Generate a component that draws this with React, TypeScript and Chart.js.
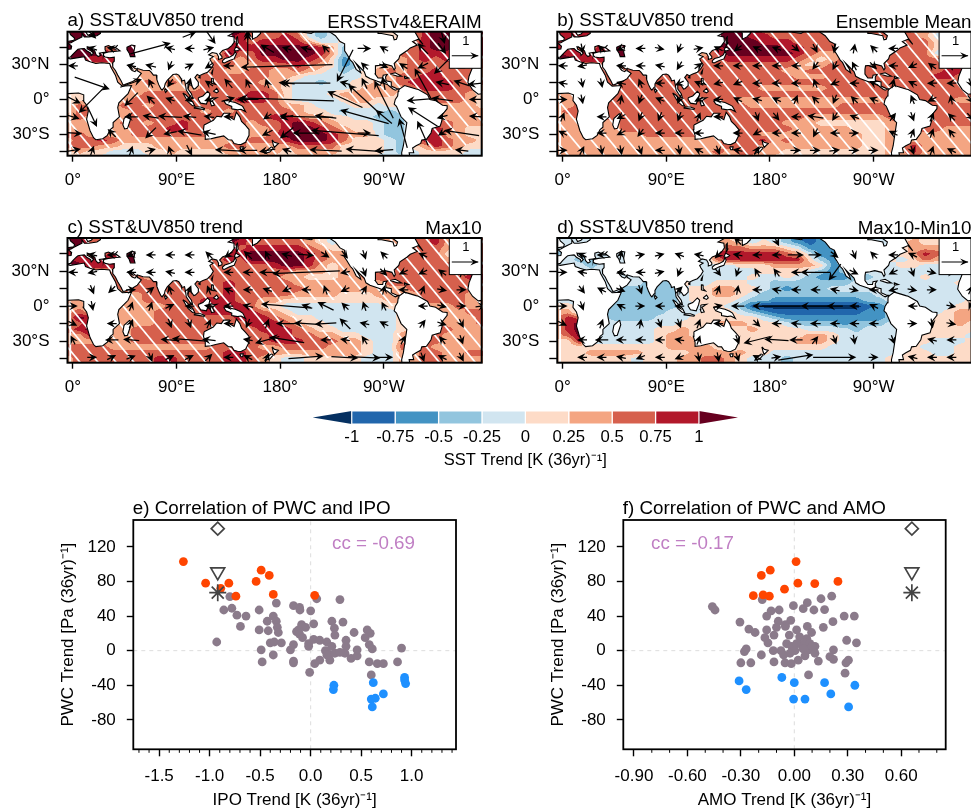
import { useEffect, useRef } from 'react';
import { Chart, registerables } from 'chart.js';
Chart.register(...registerables);

const FONT = '"Liberation Sans", Arial, sans-serif';
const levelColors = ['#053061', '#2166ac', '#4393c3', '#92c5de', '#d1e5f0', '#fddbc7', '#f4a582', '#d6604d', '#b2182b', '#67001f'];
const colorbarLevels = [-1, -0.75, -0.5, -0.25, 0, 0.25, 0.5, 0.75, 1];
const colorbarLabels = ['-1', '-0.75', '-0.5', '-0.25', '0', '0.25', '0.5', '0.75', '1'];

// SST trend band index per cell: lat 60..-50 by 5, lon -5..355 by 10
const sstLats = [60, 55, 50, 45, 40, 35, 30, 25, 20, 15, 10, 5, 0, -5, -10, -15, -20, -25, -30, -35, -40, -45, -50];
const sstLons = [-5, 5, 15, 25, 35, 45, 55, 65, 75, 85, 95, 105, 115, 125, 135, 145, 155, 165, 175, 185, 195, 205, 215, 225, 235, 245, 255, 265, 275, 285, 295, 305, 315, 325, 335, 345, 355];
const sstA = [
  '9999 7777777777 99 7777 6 4345 55555 68 99999',
  '9999 7777777777 98 7778 7 4345 55555 68 99998',
  '9977 7777777777 98 7888 8 6445 55555 78 99988',
  '99977 99 5555555 8 8 8 9 9 9 9 9 8 6 3 5 5566 7 8 9 9 8 8 8',
  '99997 99 5555555 9 7 7 9 9 9 9 9 8 6 3 4 5 6 7 7 7 8 8 8 8 8 8',
  '99888 88 5555557 7 6 7 8 8 9 9 8 7 5 2 3 5 6 6 6 7 8 7 8 8 7 7',
  '7777777 66666 6 7 7 6 6 7 7 7 8 7 6 5 2 3 4 5 6 6 7 7 7 7 8 7 7',
  '6666666 66666 6 7 6 6 7 7 6 6 7 6 5 4 3 4 5 6 7 6 7 7 8 7 7 7 6',
  '6666666 66666 7 7 7 7 7 7 6 6 5 4 4 4 4 4 5 6 6 7 7 8 8 7 7 7 6',
  '7777766 76766 7 7 7 7 7 6 6 5 4 4 3 4 4 5 5 6 6 7 8 8 8 8 7 7 7',
  '6666666 66666 7 7 7 7 7 7 6 5 4 4 4 4 4 5 6 6 6 6 7 8 8 8 7 7 6',
  '5566666 77777 7 7 7 7 8 8 7 5 4 4 4 5 6 6 6 6 6 5 6 7 7 7 7 6 5',
  '5566667 77777 7 7 7 8 8 8 7 5 4 4 4 4 5 6 6 5 5 5 6 7 7 7 7 6 5',
  '5766677 67777 7 7 7 7 7 7 7 6 6 5 4 4 4 5 5 4 5 5 6 6 6 6 6 6 5',
  '5776667 77777 6 7 6 7 7 7 7 7 6 5 5 4 3 4 4 4 3 4 5 6 6 6 6 6 6',
  '6766667 77777 7 7 7 7 7 7 8 8 7 6 6 5 5 4 4 3 3 3 5 6 6 6 6 6 6',
  '6666677 67787 7 7 7 7 6 7 7 8 9 8 7 6 5 5 5 4 3 3 5 6 7 7 6 6 6',
  '6666667 77887 7 7 7 7 6 6 7 8 9 9 8 7 6 5 5 4 3 3 5 7 8 7 6 5 5',
  '7766667 77777 7 7 7 6 6 6 7 9 9 9 9 8 7 6 6 4 3 3 6 8 8 6 6 5 5',
  '6778766 66666 6 6 6 6 7 7 7 8 9 9 9 8 7 5 5 5 4 3 7 8 8 7 6 6 5',
  '7776655 56666 6 6 7 7 6 6 6 6 7 7 7 7 5 5 5 5 4 3 5 6 8 7 6 5 5',
  '5655444 55655 5 5 6 6 6 6 6 5 6 6 6 6 5 5 5 5 4 3 4 5 5 5 5 4 4',
  '5544444 45554 4 5 5 5 5 5 5 5 5 5 5 5 5 5 5 4 4 4 4 5 5 5 4 4 4',
];
const sstB = [
  '88887777777777 99987777766 77777 7665567',
  '88887777777777 99988777777 77777 7764467',
  '88887777777777 99998887777 77777 7775567',
  '88778 99 6666666 89999988777 77777 7775567',
  '98888 99 6666666 89999998766 77777 7774367',
  '99888 88 6666667 78888887656 77777 7777777',
  '77777777777777 77777776567 77777 7777777',
  '77777777777777 77777766777 77777 7777887',
  '77777777777777 77777776667 77777 7778877',
  '77777777777777 77777777777 77777 7777777',
  '77777777777777 77776666667 77777 7777777',
  '66777777777777 77777777777 77777 7777777',
  '66777777777777 77666666666 66667 7777766',
  '66777777777777 77766666666 77777 7777777',
  '67777777777777 77777777777 77777 7777777',
  '66777777777777 77777777666 66667 7777777',
  '66666677777777 77777766655 55556 7777777',
  '66666677777777 77777776666 65556 6777666',
  '66666666777777 67776666666 66556 6666666',
  '66666666666666 68778676666 66556 6666666',
  '66666666666666 67776666666 66556 6866666',
  '66666666666666 76776655555 55556 6866666',
  '66666666666655 66665555555 55556 6666666',
];
const sstC = [
  '99777777777777 99877776545 66666 7786577',
  '99777777777777 98777776545 66666 7786467',
  '99777777777777 97888887655 66666 7776447',
  '88778 99 6666666 88999998766 66666 7775567',
  '98888 99 6666667 87999998766 67777 7776577',
  '99888 88 6666667 77778998656 66777 7777888',
  '77777776666667 77777766656 67777 7777777',
  '77777776777777 77777665556 67777 7777788',
  '77777777777777 87777766666 66677 7777777',
  '66666777777777 87777776666 66666 7777777',
  '66666667777777 87777766665 55666 6777766',
  '66666667777788 87766555555 55566 6777766',
  '66666666677788 88755444444 44455 6666766',
  '67666666777788 88876544444 44445 6676677',
  '69866666777777 78887655444 44445 6666667',
  '67966666777777 77888765544 44445 6666667',
  '78966677777777 77788876554 44445 6677666',
  '66866677777777 66778877665 54446 6776666',
  '66666677777777 66778887776 65446 7776666',
  '77776666666667 77766777766 65447 7766666',
  '77777777777777 88776666666 65446 6776677',
  '67777777887777 88765445555 54446 6776666',
  '67777777887777 88765445555 54446 6776666',
];
const sstD = [
  '44554444444444 55434431123 44444 5565554',
  '44444444444444 66545432123 44444 5655544',
  '43444444444444 77766654222 44444 5666654',
  '34444444444444 88888876422 44444 5687665',
  '34334444444444 78888888532 44445 4576654',
  '44434444444444 44555666652 34444 5544444',
  '44444444444444 44445555432 33444 4444444',
  '44444444444444 44454454322 23344 4454444',
  '44444444333544 55544333333 34444 4444455',
  '44444433333455 66554323334 44444 4444444',
  '44444433333455 66543333333 33344 4444444',
  '44444333333455 55433222222 22334 4444445',
  '55444333333445 54310000000 00123 4444455',
  '66444333334445 55432111111 11223 4444566',
  '68744333344455 55554322222 22223 4445566',
  '68944444444555 66655543333 23334 4455565',
  '68944444455655 55565555444 43444 4455555',
  '67954444456655 54555555665 44444 4555554',
  '55844444456665 54555556665 44444 4554445',
  '55555555556666 54555555554 44444 5544455',
  '55566666555566 66655444444 44444 5554455',
  '55555554555667 76544434444 44445 5555555',
  '55555554555667 76544434444 44445 5555555',
];

// Wind trend: [rowIndex, colIndex, u, v]
const windLats = [56, 44, 29, 14, 0, -15, -29, -44];
const windLons = [0, 16.875, 33.75, 50.625, 67.5, 84.375, 101.25, 118.125, 135, 151.875, 168.75, 185.625, 202.5, 219.375, 236.25, 253.125, 270, 286.875, 303.75, 320.625, 337.5, 354.375];
const windA: number[][] = [
  [0, 7, .5, -.7], [0, 9, 0, .4], [0, 19, .2, -.7], [0, 6, .5, .2], [0, 1, .3, -.3],
  [1, 1, -.3, .1], [1, 2, -.25, .05], [1, 4, 1.5, .4], [1, 5, -.2, .05], [1, 6, -.3, 0], [1, 7, .4, .1], [1, 9, 0, 1.2], [1, 10, -.5, .3], [1, 11, -.3, .1], [1, 12, -.4, .1], [1, 13, -.2, .2], [1, 15, .5, 0], [1, 16, -.25, .15], [1, 18, -.4, .4], [1, 19, .3, -.4],
  [2, 0, -.3, 0], [2, 3, -.3, .05], [2, 4, -.4, .1], [2, 5, -.1, -.25], [2, 6, .2, .1], [2, 7, -.3, -.2], [2, 8, -.4, 0], [2, 11, -3.4, -.1], [2, 14, -.6, -1.2], [2, 15, -.2, .2], [2, 16, .25, -.1], [2, 17, -.3, .2], [2, 18, -.4, -.2], [2, 19, -.6, -.6], [2, 20, -.4, -.2],
  [3, 1, 1.3, -.45], [3, 3, .8, .3], [3, 4, -.15, .3], [3, 5, -.2, -.3], [3, 6, .1, .4], [3, 7, -.3, .2], [3, 8, -.3, .35], [3, 9, -.15, .3], [3, 10, -.1, .3], [3, 11, -.6, .05], [3, 12, -1.8, 0], [3, 14, -.4, .1], [3, 15, -.2, .4], [3, 16, -.1, .5], [3, 18, -.6, 1.1], [3, 19, -.5, .1], [3, 20, -.6, .2], [3, 21, -1, -.1],
  [4, 0, .6, -.3], [4, 1, -1, -1], [4, 3, -.5, -.5], [4, 4, -.3, .3], [4, 5, -.3, .1], [4, 6, -.3, -.1], [4, 7, -.3, -.1], [4, 8, .5, .15], [4, 9, -.8, 0], [4, 11, -3.5, .1], [4, 14, -1.3, .6], [4, 15, -1.2, 1.1], [4, 16, -.7, 1.4], [4, 18, -1.2, -.1], [4, 19, -.8, .1], [4, 21, -.9, 0],
  [5, 0, .5, -.15], [5, 1, .35, -.75], [5, 3, -.5, 0], [5, 4, -.6, .1], [5, 5, -.9, .05], [5, 6, -.5, .05], [5, 7, -.4, .05], [5, 8, -.3, 0], [5, 10, -.3, -.2], [5, 11, -.5, -.1], [5, 12, -2, .05], [5, 13, -.8, .1], [5, 15, -1.8, .5], [5, 16, -.6, .5], [5, 18, -1.1, .7], [5, 19, -.4, -.1], [5, 21, -.9, .05],
  [6, 0, .7, -.05], [6, 2, -.3, .3], [6, 4, -.4, -.4], [6, 5, -.5, -.1], [6, 6, -.9, .15], [6, 7, -.5, .1], [6, 10, -.4, -.2], [6, 11, -.5, -.4], [6, 12, -1, 0], [6, 14, -2.5, .2], [6, 15, .5, 0], [6, 17, -.3, 1.1], [6, 18, -.4, .9], [6, 19, -.3, -.2], [6, 20, -1.3, .2],
  [7, 0, .6, .1], [7, 1, .1, .3], [7, 3, .1, .3], [7, 4, .4, .1], [7, 5, -.1, .3], [7, 6, .2, -.4], [7, 8, -1, .05], [7, 9, -.7, 0], [7, 10, -.6, -.1], [7, 11, -.3, .1], [7, 13, -1.2, .05], [7, 15, -1.4, .1], [7, 16, -.7, -.05], [7, 20, -.5, .05],
];
const windB: number[][] = [
  [1, 1, .05, -.28], [1, 2, -.15, .15], [1, 3, -.2, -.1], [1, 4, -.28, 0], [1, 5, .25, -.05], [1, 6, -.1, -.25], [1, 7, .28, .05], [1, 8, -.2, .1], [1, 9, -.2, -.15], [1, 10, -.2, .1], [1, 11, -.25, .1], [1, 12, .22, -.18], [1, 13, .1, -.2], [1, 14, -.05, -.25], [1, 15, .05, .28], [1, 16, -.2, .2], [1, 17, -.2, 0],
  [2, 0, -.28, 0], [2, 1, -.25, -.05], [2, 3, -.3, 0], [2, 4, -.28, 0], [2, 5, -.25, .05], [2, 6, -.15, -.25], [2, 7, .2, .15], [2, 8, -.28, 0], [2, 9, -.28, 0], [2, 10, -.28, 0], [2, 11, -.28, 0], [2, 12, -.28, 0], [2, 13, -.15, -.2], [2, 14, -.1, -.2], [2, 15, -.1, .2], [2, 16, .1, -.1], [2, 17, -.25, 0], [2, 18, -.2, -.1], [2, 19, -.2, .15], [2, 20, .05, -.2],
  [3, 0, -.25, .05], [3, 1, .05, -.25], [3, 2, .05, -.25], [3, 3, -.2, .05], [3, 4, -.1, .25], [3, 5, -.25, 0], [3, 6, -.2, -.1], [3, 7, -.25, .1], [3, 8, -.25, -.05], [3, 9, -.25, -.1], [3, 10, -.28, 0], [3, 11, -.25, 0], [3, 12, -.28, 0], [3, 13, -.1, .25], [3, 14, -.25, -.1], [3, 15, -.25, 0], [3, 16, -.2, .1], [3, 17, .05, .2], [3, 18, -.2, .1], [3, 19, -.25, 0], [3, 20, -.28, 0], [3, 21, .1, -.25],
  [4, 0, .25, 0], [4, 1, .05, -.25], [4, 3, .05, .28], [4, 4, -.1, -.28], [4, 5, -.25, .1], [4, 6, -.1, -.25], [4, 7, -.2, -.1], [4, 8, -.28, 0], [4, 9, -.2, .1], [4, 10, -.2, .05], [4, 11, -.2, .1], [4, 12, .1, .25], [4, 13, -.2, .2], [4, 14, -.1, -.25], [4, 15, -.2, .2], [4, 16, -.25, .1], [4, 18, -.1, .25], [4, 19, -.2, -.1], [4, 20, -.05, .25], [4, 21, .15, -.2],
  [5, 0, .1, .25], [5, 2, -.28, 0], [5, 3, -.2, -.1], [5, 4, -.1, -.25], [5, 5, -.1, -.25], [5, 6, -.1, -.28], [5, 7, .1, .25], [5, 8, -.25, 0], [5, 10, .1, -.28], [5, 11, .2, -.25], [5, 12, -.28, 0], [5, 13, -.6, .1], [5, 14, -.15, -.25], [5, 15, -.25, .1], [5, 17, .15, .2], [5, 18, .1, -.28], [5, 19, .1, .25], [5, 20, -.2, .2], [5, 21, .2, -.2],
  [6, 0, -.2, .1], [6, 2, -.28, 0], [6, 3, -.2, -.1], [6, 4, -.15, -.2], [6, 5, -.25, 0], [6, 6, -.28, 0], [6, 7, -.28, 0], [6, 9, -.2, 0], [6, 10, -.2, -.1], [6, 11, -.28, 0], [6, 12, -.25, 0], [6, 13, -.1, -.2], [6, 14, -.28, 0], [6, 15, .2, 0], [6, 17, -.2, .1], [6, 18, .1, .25], [6, 19, .1, .28], [6, 20, -.15, .2],
  [7, 0, .25, 0], [7, 1, .1, .2], [7, 2, .05, -.28], [7, 3, .05, -.28], [7, 4, .1, -.28], [7, 5, -.28, 0], [7, 6, .05, -.28], [7, 7, -.2, .1], [7, 8, .1, -.28], [7, 9, -.28, .05], [7, 10, .15, .25], [7, 12, .4, 0], [7, 13, .4, 0], [7, 14, .4, .05], [7, 15, .4, 0], [7, 16, .3, 0], [7, 18, .1, -.28], [7, 19, .1, .28], [7, 20, -.2, .1],
];
const windC: number[][] = [
  [1, 1, -.25, .05], [1, 2, -.25, 0], [1, 3, -.25, -.1], [1, 4, -.28, 0], [1, 5, -.28, 0], [1, 6, -.28, 0], [1, 7, -.2, .2], [1, 8, -.2, -.15], [1, 9, -.3, .3], [1, 10, -.15, .3], [1, 11, -.4, .1], [1, 12, .6, -.05], [1, 13, .3, -.2], [1, 14, .2, -.25], [1, 15, .1, -.3], [1, 16, -.2, .2], [1, 18, -.2, .1],
  [2, 0, -.28, 0], [2, 1, -.25, -.05], [2, 3, -.3, 0], [2, 4, -.28, 0], [2, 5, -.25, .05], [2, 6, -.25, 0], [2, 8, -.3, 0], [2, 9, -.4, 0], [2, 10, -.6, 0], [2, 12, -2.5, -.1], [2, 14, -.25, -.05], [2, 15, .1, -.28], [2, 16, .1, -.1], [2, 17, -.2, -.1], [2, 18, -.2, -.1], [2, 19, -.2, .15], [2, 20, .05, .2],
  [3, 1, .1, -.25], [3, 2, -.1, -.1], [3, 3, .25, 0], [3, 4, .25, .2], [3, 5, -.1, .3], [3, 6, .1, .25], [3, 7, -.1, .25], [3, 8, -.25, .1], [3, 9, -.28, 0], [3, 10, -.3, .1], [3, 11, -.25, -.1], [3, 12, -.3, 0], [3, 13, -.1, .28], [3, 14, -.2, -.1], [3, 15, .15, .25], [3, 16, .05, .2], [3, 17, -.2, 0], [3, 18, .1, .25], [3, 19, .28, -.05], [3, 20, .2, 0],
  [4, 0, .25, 0], [4, 1, .05, -.25], [4, 3, .1, .28], [4, 4, .1, .28], [4, 5, .2, .1], [4, 6, -.25, 0], [4, 7, -.25, .05], [4, 8, -.3, 0], [4, 9, -.4, .1], [4, 11, -1.9, .15], [4, 12, -.3, .1], [4, 13, -.6, .3], [4, 14, -.2, .2], [4, 15, -.1, .3], [4, 16, -.1, .2], [4, 18, -.2, 0], [4, 19, .2, -.05], [4, 20, .2, 0], [4, 21, .4, .05],
  [5, 0, .2, -.1], [5, 2, -.28, 0], [5, 3, .1, .25], [5, 5, .1, -.28], [5, 6, .1, -.28], [5, 7, .1, .25], [5, 8, -.25, 0], [5, 9, -.1, -.25], [5, 10, .1, .28], [5, 11, -.8, 0], [5, 12, -.9, .05], [5, 13, -.8, -.05], [5, 14, -.4, .4], [5, 15, -.25, .05], [5, 16, -.2, .1], [5, 18, .15, .2], [5, 19, .3, -.1], [5, 20, .1, -.2],
  [6, 0, -.15, .3], [6, 2, -.5, 0], [6, 3, -.6, .05], [6, 5, -.7, .05], [6, 6, -1.3, .1], [6, 7, -.5, .05], [6, 9, -.3, .05], [6, 10, -.9, -.25], [6, 11, -1.3, .2], [6, 13, -.4, 0], [6, 14, -.3, .05], [6, 15, -.2, .3], [6, 17, .1, .2], [6, 19, -.2, .25], [6, 20, .1, -.3],
  [7, 1, .15, 0], [7, 2, .2, .1], [7, 3, .25, .1], [7, 4, .1, -.25], [7, 5, .2, .1], [7, 6, .2, .1], [7, 7, .15, .15], [7, 8, -.2, 0], [7, 9, -.2, .1], [7, 10, .1, .25], [7, 12, 1.3, .1], [7, 14, 1, -.05], [7, 15, 1.2, -.05], [7, 16, .7, 0], [7, 18, .1, -.28], [7, 19, -.2, .1], [7, 20, .1, -.2],
];
const windD: number[][] = [
  [0, 11, .2, -.4], [0, 9, -.2, .2],
  [1, 1, -.2, .1], [1, 2, -.25, 0], [1, 3, .05, .25], [1, 4, .25, .05], [1, 5, .2, .05], [1, 6, -.28, .1], [1, 7, -.28, .05], [1, 8, -.2, -.2], [1, 9, -.28, .05], [1, 10, -.3, 0], [1, 11, -.25, 0], [1, 12, .6, 0], [1, 13, .5, 0], [1, 14, .25, -.2], [1, 15, .1, -.25], [1, 16, -.2, .2], [1, 17, -.2, 0], [1, 18, -.2, .1],
  [2, 0, .25, 0], [2, 1, -.25, .05], [2, 3, -.25, -.05], [2, 4, -.28, 0], [2, 5, .25, .05], [2, 6, -.1, -.25], [2, 8, .15, -.2], [2, 9, -.1, -.28], [2, 10, -.15, .25], [2, 11, -.15, .2], [2, 12, -.3, 0], [2, 13, -1.1, 0], [2, 14, -.45, -.6], [2, 15, .2, -.1], [2, 17, -.2, -.1], [2, 18, .1, -.28], [2, 19, .2, -.05], [2, 20, .25, 0],
  [3, 1, .15, -.2], [3, 2, -.2, .1], [3, 3, .25, -.1], [3, 4, .1, -.28], [3, 6, .2, .2], [3, 8, .1, .28], [3, 9, .05, .28], [3, 10, -.25, 0], [3, 11, -.25, .05], [3, 12, -.28, 0], [3, 13, -.28, 0], [3, 14, -.25, .05], [3, 15, .2, -.05], [3, 16, -.25, 0], [3, 17, -.2, -.05], [3, 18, .25, -.05], [3, 19, .2, 0], [3, 21, .1, .2],
  [4, 0, .25, 0], [4, 1, .1, -.28], [4, 3, -.2, .1], [4, 4, .25, 0], [4, 5, -.2, 0], [4, 6, -.25, 0], [4, 8, .2, .05], [4, 9, -.5, 0], [4, 11, -1.8, 0], [4, 13, -1.1, 0], [4, 14, -.6, 0], [4, 15, -.3, 0], [4, 16, -.2, .1], [4, 18, -.2, 0], [4, 20, .25, -.05], [4, 21, -.1, .2],
  [5, 0, .2, -.1], [5, 2, .1, .28], [5, 4, .05, .3], [5, 5, .1, -.25], [5, 6, .1, -.28], [5, 7, .1, .28], [5, 8, -.25, 0], [5, 10, .2, -.2], [5, 11, -.28, 0], [5, 12, -.4, .05], [5, 13, -.4, 0], [5, 14, -.3, 0], [5, 15, -.28, 0], [5, 16, -.28, 0], [5, 18, .28, 0], [5, 19, .05, -.3], [5, 20, .3, -.05],
  [6, 1, -.3, 0], [6, 2, -.5, 0], [6, 3, -.4, 0], [6, 4, -.4, 0], [6, 5, -.25, 0], [6, 6, -.3, .05], [6, 7, .1, .28], [6, 9, .1, -.28], [6, 10, -1, -.25], [6, 11, -.9, .05], [6, 12, -.5, 0], [6, 13, .15, .2], [6, 14, .1, -.28], [6, 15, .05, -.3], [6, 17, .1, -.28], [6, 19, -.2, .05], [6, 20, -.25, 0],
  [7, 1, -.3, 0], [7, 2, -.3, 0], [7, 3, -.25, .05], [7, 4, -.25, -.1], [7, 5, -.25, 0], [7, 6, -.25, -.1], [7, 7, .05, -.28], [7, 8, .05, -.28], [7, 9, .1, -.3], [7, 10, -.2, .1], [7, 11, .3, .05], [7, 12, 1.3, .2], [7, 14, 1.6, 0], [7, 16, .25, 0], [7, 18, -.2, .05], [7, 19, -.25, 0], [7, 20, -.25, 0],
];

// Coastlines (lon, lat)
const wrapLand: number[][][] = [
  [[-6, 35.8], [-2, 35], [10, 37], [11, 34], [15, 32.5], [20, 31], [25, 31.7], [32, 31], [33, 28], [37, 21], [39, 15], [43, 11.5], [51, 12], [48, 5], [40, -3], [39, -7], [40.5, -15], [35, -20], [35, -24], [32.5, -26], [30, -31], [26, -34], [20, -34.8], [18, -33], [15, -27], [12, -17], [13.5, -10], [12, -5], [9, -1], [9.5, 4], [5, 5.5], [-4, 5], [-8, 4.5], [-13, 8.5], [-17, 14.5], [-16, 20], [-13, 27.5], [-9, 32]],
  [[-9, 43], [-9, 37], [-5.5, 36], [-2, 36.7], [0, 39], [3, 42], [4.5, 43.3], [7, 43.7], [10, 44], [12, 42], [15.5, 40], [16, 38], [18, 40], [16, 41.7], [13, 43.5], [12.5, 45.5], [14, 45], [19, 42], [20, 39], [22, 37], [24, 38], [23, 40], [26, 40.5], [29, 41], [28, 43], [28, 45.5], [31, 46.5], [34, 45], [37, 45], [39, 47], [37, 45], [41, 42], [36, 41.5], [31, 41], [27, 40], [26.5, 38], [28, 36.7], [32, 36], [36, 36.5], [36, 33], [34.5, 31.5], [34.7, 28], [37, 25], [39, 21], [42, 16], [43.5, 12.7], [45, 12.8], [52, 15.5], [56, 18], [59.5, 22.5], [56.5, 24.5], [56, 26.5], [54, 24], [51.5, 25], [50, 26.5], [48, 29.5], [50, 30], [54, 26.7], [57, 26.5], [61, 25.2], [66.5, 25], [68, 23.5], [70, 21], [72.5, 21], [73, 17], [74.5, 13], [76.5, 9], [77.5, 8], [79.5, 10.5], [80.2, 13.5], [82, 16.5], [85, 19.5], [87, 21.5], [90, 22], [92, 21], [94, 18], [94.5, 16], [97, 16.7], [98, 12], [98.5, 8], [100.5, 5], [103, 1.5], [104, 1.5], [103, 5], [100, 9], [100, 13.5], [103, 12], [105, 9], [106.5, 9.5], [109, 12], [109, 15], [106, 19], [108, 21.5], [110, 20.5], [113, 22], [117, 23.5], [120, 26.5], [122, 30], [120, 33], [119, 35], [122, 37], [118, 38.5], [121, 40.5], [125, 39.7], [126.5, 37], [126.5, 34.5], [129, 35.3], [129.5, 37], [127.5, 39.5], [130, 42.3], [135, 44], [138, 46.5], [140.5, 50], [140, 54], [135, 55], [142, 59], [155, 59.5], [156, 57], [156, 52], [160, 54], [163, 57], [163, 60], [170, 60], [179, 62], [179, 70], [30, 70], [30, 60], [24, 59.5], [24, 57], [21, 55], [14, 54], [10, 54], [8, 57], [8, 54], [4, 52], [1, 50.5], [-1.5, 49], [-4, 48.5], [-1, 46], [-1.5, 43.5]],
  [[5, 59], [7, 58], [11, 59], [13, 55.5], [16, 56.5], [19, 60], [20, 70], [5, 70]],
  [[-5, 50], [1, 51], [1.5, 53], [-2, 56], [-3, 58.6], [-6, 58], [-5, 54.5], [-5, 52]],
  [[-10, 52], [-6, 52], [-6, 55], [-10, 54.5]],
];
const fixedLand: number[][][] = [
  [[49.5, -12], [50.5, -16], [47.5, -25], [45, -25.5], [43.5, -22], [44.5, -16.5]],
  [[80, 9.5], [82, 7.5], [80.5, 6], [79.7, 8]],
  [[95.5, 5.5], [98, 4], [104, -2], [106, -5.8], [104, -5.5], [100, -2]],
  [[105.5, -6.5], [111, -6.5], [114.5, -7.8], [114, -8.7], [106, -7.5]],
  [[109, 1.5], [113, 3], [117, 7], [119, 5], [118, 1], [116, -4], [111, -3.2], [109, 0]],
  [[120, 1], [125, 1.5], [121, -1], [123, -5], [120.5, -5.5], [119.5, -3]],
  [[120.5, 18.5], [122, 18], [122, 15], [124, 13], [120.5, 14]],
  [[122, 7], [125, 9.5], [126.5, 7], [125, 5.7]],
  [[120.2, 23], [121.5, 25.2], [121, 22]],
  [[109, 19], [110.5, 20], [110.5, 18.5]],
  [[130, 32], [131.5, 31.5], [136, 33.7], [140, 35], [142, 39.5], [141, 41.5], [139.5, 38.5], [136, 36.5], [132, 35.3], [130, 33.5]],
  [[140, 42], [141.5, 45.5], [145, 43.5], [143, 42]],
  [[142, 46], [143.5, 49], [143, 54], [142, 53]],
  [[131, -1], [134, -1], [138, -2], [141, -2.7], [145, -4.5], [147.5, -6], [150, -10.5], [146, -8.5], [143, -9], [138, -8], [138, -6], [133, -4]],
  [[114, -22], [122, -18], [125, -14.5], [129, -15], [131, -12], [136, -12], [135.5, -15], [140, -17.5], [142, -11], [145, -15], [146.5, -19], [150, -22.5], [153, -26], [153, -31], [150, -37], [146, -39], [143, -38.7], [140, -38], [138, -35], [135, -34.8], [131, -31.5], [124, -33], [120, -34], [115, -34.5], [115, -31], [113.5, -26]],
  [[145, -41], [148, -41], [147.5, -43.5], [146, -43.5]],
  [[173, -35], [175, -37], [178.5, -38], [175, -41.5], [174, -39]],
  [[172.5, -41], [174, -42], [171, -45.5], [167, -46.5], [168, -44.5]],
  [[195, 61], [200, 58], [207, 57], [212, 60], [222, 59], [228, 55], [232, 50], [236, 48], [236, 42], [238, 39], [241, 34], [243, 32], [246, 26], [250, 23], [249, 26], [245.5, 31.5], [249, 28], [253, 24], [254.5, 20], [258, 18], [265, 15.5], [268, 14.5], [273, 13], [276, 10.5], [278, 9], [280, 8], [282.5, 9], [284, 9], [281, 9.5], [276.5, 11.5], [276.5, 15], [272, 16], [271.5, 19.5], [273, 21.5], [269.5, 21], [269, 18.5], [265, 18.5], [262.5, 22], [262.5, 26], [263, 29], [267, 29.5], [271, 30.5], [277, 29], [279, 25.5], [280, 27], [279, 31], [283, 35], [284, 38], [290, 42], [293, 44.5], [299, 47], [295, 50], [300, 52], [304, 47.5], [300, 53], [296, 60], [295, 70], [195, 70]],
  [[283, 8.5], [288, 12], [293, 10.5], [298, 9], [300, 8.5], [308, 4], [310, 0], [315, -1], [321, -5], [325, -5.5], [325, -8], [321, -13], [320.5, -18], [319, -23], [312, -25], [311, -29], [307, -34.5], [303, -35], [302, -38], [298, -40], [295, -42], [296, -46], [292, -46], [293, -52], [286, -52], [285.5, -46], [287, -40], [288.5, -30], [290, -20], [285, -15], [281, -6], [279, -4], [280, 0], [282, 3], [282.5, 7]],
  [[275.5, 22], [280, 23], [285.5, 20], [282, 20]],
  [[288, 18], [288, 20], [291.5, 18.5]],
];
const seamGap = [[-3, 4], [-1.4, 4], [-1.4, -50], [-3, -50]];
const inlandSeas: number[][][] = [
  [[47, 45], [51, 47], [54, 46.5], [53, 41], [54, 37], [50, 37], [49, 40], [47, 43]],
  [[265, 62], [265, 57], [268, 57], [278, 55], [279, 51.5], [281, 52], [282, 55], [278, 58], [282, 62]],
];

// Scatter points: [trend index, PWC trend]
const ipoGray = [[-.8, 62.5], [-.86, 47], [-.78, 49], [-.73, 41], [-.64, 40], [-.695, 28], [-.93, 10], [-.51, 47], [-.51, 24], [-.43, 34], [-.42, 23], [-.34, 55], [-.37, 40], [-.34, 34], [-.33, 27], [-.32, 21], [-.4, 9], [-.36, 10], [-.29, 9], [-.49, 1], [-.48, -13], [-.37, -5], [-.17, 52], [-.11, 50], [-.106, 47], [0, 46], [.06, 60], [.29, 59], [.21, 34], [.32, 33], [.235, 26], [.24, 18], [.03, 31], [-.09, 30], [-.05, 27], [-.12, 24], [-.14, 22], [-.11, 19], [-.08, 15], [-.17, 7], [-.2, 1], [-.17, -12], [-.17, -14], [-.02, 5], [-.02, 8], [.03, 13], [.09, 12], [.16, 10], [.146, 0], [.21, 5], [.18, -4], [.19, -11], [.16, -5], [.24, -3], [.09, -11], [.04, -15], [-.01, -25], [.34, -3], [.35, 5], [.35, 12], [.43, 21], [.4, -9], [.46, -6], [.46, 1], [.56, 24], [.59, 20], [.54, 15], [.58, 7], [.61, 2], [.58, -13], [.6, -28], [.66, -15], [.72, -15], [.86, -13], [.9, 3], [.29, -2]];
const ipoOrange = [[-1.26, 103], [-1.04, 78], [-.89, 72], [-.81, 78], [-.74, 63], [-.54, 80], [-.49, 93], [-.41, 87], [-.37, 65], [.04, 64]];
const ipoBlue = [[.23, -40], [.225, -45], [.62, -37], [.6, -56], [.64, -55], [.61, -65], [.72, -50], [.93, -31], [.93, -34], [.94, -38]];
const amoGray = [[-.46, 51], [-.445, 47], [-.18, 59], [-.305, 33], [-.255, 25], [-.22, 21], [-.155, 40], [-.13, 46], [-.085, 47], [-.005, 52], [.05, 48.5], [.073, 55.5], [.11, 47], [.17, 47.5], [.15, 60], [.21, 63], [.28, 40], [.337, 40], [.217, 33.5], [.163, 27], [-.09, 34], [-.02, 35], [-.05, 30], [-.1, 27], [-.155, 24], [-.114, 18], [-.165, 15], [-.148, 9], [.013, 24], [.073, 28], [.097, 21], [-.028, 18], [.03, 16], [.07, 14], [-.043, 8], [-.015, 5], [.013, 8], [.04, 7], [.06, 9], [.088, 8], [.116, 5], [.004, 0], [.05, 2], [.08, 1], [-.075, 0], [-.118, 0], [-.06, -5], [-.024, -3], [.06, -6], [.116, -3], [.022, -11], [.135, -12], [-.052, -14], [-.017, -15], [-.114, -13], [-.185, -5], [-.244, -14], [-.3, -14], [-.28, -1], [-.27, 2], [.22, 1], [.2, -7], [.22, -10], [.29, -14], [.304, -11], [.285, -26], [.294, 12], [.349, 9], [.08, -28], [.1, 5], [-.05, 28]];
const amoOrange = [[.01, 103], [-.185, 87], [-.135, 93], [.02, 78], [.115, 77.5], [.245, 80], [-.055, 71], [-.175, 64.5], [-.23, 63.6], [-.14, 63]];
const amoBlue = [[-.31, -35], [-.27, -45], [-.07, -31], [0, -37], [-.004, -56], [.06, -56], [.17, -37], [.205, -50], [.34, -40], [.305, -65]];
const refDiamond = [141];
const refTriangle = [91];
const refStar = [67];
const ipoRefX = -.92;
const amoRefX = .66;
const pwcTicks = [-80, -40, 0, 40, 80, 120];
const ipoTicks = [-1.5, -1, -.5, 0, .5, 1];
const ipoMinor = [-1.7, -1.6, -1.4, -1.3, -1.2, -1.1, -.9, -.8, -.7, -.6, -.4, -.3, -.2, -.1, .1, .2, .3, .4, .6, .7, .8, .9, 1.1, 1.2, 1.3, 1.4];
const amoTicks = [-.9, -.6, -.3, 0, .3, .6];
const amoMinor = [-.8, -.7, -.5, -.4, -.2, -.1, .1, .2, .4, .5, .7, .8];

const clamp = (a: number, lo: number, hi: number) => Math.max(lo, Math.min(hi, a));
const closed = (p: number[][], dx = 0) => [...p, p[0]].map(([x, y]) => ({ x: x + dx, y }));
const fmtPoints = (p: number[][]) => p.map(([x, y]) => ({ x, y }));

function hex(c: string) {
  return [parseInt(c.slice(1, 3), 16), parseInt(c.slice(3, 5), 16), parseInt(c.slice(5, 7), 16)];
}

function drawArrow(ctx: CanvasRenderingContext2D, x0: number, y0: number, x1: number, y1: number) {
  const dx = x1 - x0, dy = y1 - y0;
  const len = Math.hypot(dx, dy) || 1;
  const ux = dx / len, uy = dy / len;
  const hl = 8.5, hw = 4.2;
  ctx.beginPath();
  ctx.moveTo(x0, y0);
  ctx.lineTo(x1 - ux * hl * .6, y1 - uy * hl * .6);
  ctx.lineWidth = 1.25;
  ctx.strokeStyle = '#000';
  ctx.stroke();
  ctx.beginPath();
  ctx.moveTo(x1, y1);
  ctx.lineTo(x1 - ux * hl - uy * hw, y1 - uy * hl + ux * hw);
  ctx.lineTo(x1 - ux * hl * .62, y1 - uy * hl * .62);
  ctx.lineTo(x1 - ux * hl + uy * hw, y1 - uy * hl - ux * hw);
  ctx.closePath();
  ctx.fillStyle = '#000';
  ctx.fill();
}

const mapPlugin = {
  id: 'mapLayers',
  beforeDatasetsDraw(chart: any) {
    const o = chart.options.plugins.mapLayers;
    const { left, top, width, height } = chart.chartArea;
    const grid = chart.data.datasets[0].data as any[];
    const W = Math.ceil(width), H = Math.ceil(height);
    const off = document.createElement('canvas');
    off.width = W; off.height = H;
    const octx = off.getContext('2d')!;
    const img = octx.createImageData(W, H);
    const cols = sstLons.length, rows = sstLats.length;
    const rgb = levelColors.map(hex);
    const xs = chart.scales.x, ys = chart.scales.y;
    for (let j = 0; j < H; j++) {
      const lat = ys.getValueForPixel(top + j + .5);
      const fr = clamp((60 - lat) / 5, 0, rows - 1.001);
      const r0 = Math.floor(fr), tr = fr - r0;
      for (let i = 0; i < W; i++) {
        const lon = xs.getValueForPixel(left + i + .5);
        const fc = clamp((lon + 5) / 10, 0, cols - 1.001);
        const c0 = Math.floor(fc), tc = fc - c0;
        const v = (grid[r0 * cols + c0].v * (1 - tc) + grid[r0 * cols + c0 + 1].v * tc) * (1 - tr) +
          (grid[(r0 + 1) * cols + c0].v * (1 - tc) + grid[(r0 + 1) * cols + c0 + 1].v * tc) * tr;
        const band = clamp(Math.floor(v), 0, 9);
        let [r, g, b] = rgb[band];
        if (v >= o.hatchMin) {
          const s = (1.2 * i - j + 2006.8) / 1.562;
          const d = 13.8;
          const m = ((s % d) + d) % d;
          const dist = Math.min(m, d - m);
          const a = clamp(1.35 - dist, 0, 1);
          r += (255 - r) * a; g += (255 - g) * a; b += (255 - b) * a;
        }
        const k = (j * W + i) * 4;
        img.data[k] = r; img.data[k + 1] = g; img.data[k + 2] = b; img.data[k + 3] = 255;
      }
    }
    octx.putImageData(img, 0, 0);
    chart.$raster = off;
    chart.ctx.drawImage(off, Math.round(left), Math.round(top));
  },
  afterDatasetsDraw(chart: any) {
    const o = chart.options.plugins.mapLayers;
    const { ctx, chartArea: { left, top, right, width, height } } = chart;
    const xs = chart.scales.x, ys = chart.scales.y;
    ctx.save();
    ctx.beginPath();
    ctx.rect(left, top, width, height);
    ctx.clip();
    for (const sea of inlandSeas) {
      ctx.save();
      ctx.beginPath();
      sea.forEach(([x, y], i) => {
        const px = xs.getPixelForValue(x), py = ys.getPixelForValue(y);
        if (i) ctx.lineTo(px, py); else ctx.moveTo(px, py);
      });
      ctx.closePath();
      ctx.save();
      ctx.clip();
      ctx.drawImage(chart.$raster, Math.round(left), Math.round(top));
      ctx.restore();
      ctx.strokeStyle = '#000';
      ctx.lineWidth = 1.1;
      ctx.stroke();
      ctx.restore();
    }
    for (const [row, col, u, v] of o.wind as number[][]) {
      const cx = xs.getPixelForValue(windLons[col]), cy = ys.getPixelForValue(windLats[row]);
      const k = 27;
      let ax = u * k, ay = -v * k;
      const len = Math.hypot(ax, ay);
      if (len < 10) { ax *= 10 / len; ay *= 10 / len; }
      drawArrow(ctx, cx - ax / 2, cy - ay / 2, cx + ax / 2, cy + ay / 2);
    }
    // reference vector box
    const bx = right - 32.4, by = top, bh = 36.6;
    ctx.fillStyle = '#fff';
    ctx.fillRect(bx, by, 33, bh);
    ctx.strokeStyle = '#000';
    ctx.lineWidth = 1;
    ctx.strokeRect(bx, by, 33, bh);
    ctx.beginPath();
    ctx.moveTo(bx + 2.5, by + 24);
    ctx.lineTo(bx + 29, by + 24);
    ctx.lineWidth = 1.1;
    ctx.stroke();
    ctx.beginPath();
    ctx.moveTo(bx + 29, by + 24);
    ctx.lineTo(bx + 21, by + 20.5);
    ctx.lineTo(bx + 24, by + 24);
    ctx.lineTo(bx + 21, by + 27.5);
    ctx.closePath();
    ctx.fillStyle = '#000';
    ctx.fill();
    ctx.font = `13px ${FONT}`;
    ctx.textAlign = 'center';
    ctx.textBaseline = 'middle';
    ctx.fillText('1', bx + 16.5, by + 9.5);
    ctx.restore();
    ctx.strokeStyle = '#000';
    ctx.lineWidth = 2;
    ctx.strokeRect(left, top, width, height);
    ctx.fillStyle = '#000';
    ctx.font = `18.8px ${FONT}`;
    ctx.textBaseline = 'alphabetic';
    ctx.textAlign = 'left';
    ctx.fillText(o.leftTitle, left, top - 5.5);
    ctx.textAlign = 'right';
    ctx.fillText(o.rightTitle, right, top - 4);
  },
};

const scatterPlugin = {
  id: 'scatterLayers',
  afterDraw(chart: any) {
    const o = chart.options.plugins.scatterLayers;
    const { ctx, chartArea: { left, top, bottom, width, height } } = chart;
    ctx.save();
    ctx.strokeStyle = '#000';
    ctx.lineWidth = 1.8;
    ctx.strokeRect(left, top, width, height);
    ctx.lineWidth = 1;
    ctx.beginPath();
    for (const m of o.minor as number[]) {
      const px = chart.scales.x.getPixelForValue(m);
      ctx.moveTo(px, bottom);
      ctx.lineTo(px, bottom + 3.5);
    }
    ctx.stroke();
    ctx.fillStyle = '#000';
    ctx.font = `18.8px ${FONT}`;
    ctx.textAlign = 'left';
    ctx.textBaseline = 'alphabetic';
    ctx.fillText(o.title, left - .5, top - 6);
    ctx.fillStyle = '#c07fc4';
    ctx.font = `18.8px ${FONT}`;
    ctx.fillText('cc = ' + o.cc, o.ccX, top + 29);
    ctx.restore();
  },
};

function mapConfig(rows: string[], wind: number[][], hatchMin: number, leftTitle: string, rightTitle: string, r: { L: number; T: number; W: number; H: number; pl: number; pr: number; pt: number; pb: number }) {
  const grid: any[] = [];
  rows.forEach((row, ri) => {
    const s = row.replace(/\s/g, '').padEnd(sstLons.length, row.replace(/\s/g, '').slice(-1));
    sstLons.forEach((x, ci) => grid.push({ x, y: sstLats[ri], v: Number(s[ci]) + .5 }));
  });
  const landStyle = { type: 'scatter', showLine: true, pointRadius: 0, borderColor: '#000', borderWidth: 1.1, backgroundColor: '#fff', fill: 'shape', tension: 0 };
  const datasets: any[] = [{ type: 'scatter', label: 'SST trend', data: grid, pointRadius: 0, showLine: false }];
  datasets.push({ ...landStyle, label: 'seam', data: closed(seamGap), borderColor: '#fff', borderWidth: 0 });
  for (const p of wrapLand) {
    datasets.push({ ...landStyle, label: 'land', data: closed(p) });
    datasets.push({ ...landStyle, label: 'land', data: closed(p, 360) });
  }
  for (const p of fixedLand) datasets.push({ ...landStyle, label: 'land', data: closed(p) });
  return {
    type: 'scatter' as const,
    data: { datasets },
    plugins: [mapPlugin],
    options: {
      responsive: false,
      animation: false as const,
      events: [],
      layout: { autoPadding: false, padding: { left: 0, right: r.L + r.W - r.pr, top: r.pt - r.T, bottom: 0 } },
      plugins: { legend: { display: false }, tooltip: { enabled: false }, mapLayers: { wind, hatchMin, leftTitle, rightTitle } },
      scales: {
        x: {
          type: 'linear', min: -4.6, max: 355, position: 'bottom',
          afterBuildTicks: (s: any) => { s.ticks = [0, 90, 180, 270].map((value) => ({ value })); },
          afterFit: (s: any) => { s.height = r.T + r.H - r.pb; },
          grid: { drawOnChartArea: false, tickLength: 6, tickColor: '#000', tickWidth: 1.4 },
          border: { display: false },
          ticks: { autoSkip: false, maxRotation: 0, padding: 8, color: '#000', font: { family: FONT, size: 17 }, callback: (v: number) => ({ 0: '0°', 90: '90°E', 180: '180°', 270: '90°W' } as any)[v] },
        },
        y: {
          type: 'linear', min: -48.6, max: 58.5, position: 'left',
          afterBuildTicks: (s: any) => { s.ticks = [45, 30, 15, 0, -15, -30, -45].map((value) => ({ value })); },
          afterFit: (s: any) => { s.width = r.pl - r.L; },
          grid: { drawOnChartArea: false, tickLength: 8, tickColor: '#000', tickWidth: 1.4 },
          border: { display: false },
          ticks: { autoSkip: false, padding: 10, color: '#000', font: { family: FONT, size: 17 }, callback: (v: number) => ({ 30: '30°N', 0: '0°', '-30': '30°S' } as any)[v] ?? '' },
        },
      },
    },
  };
}

function scatterConfig(gray: number[][], orange: number[][], blue: number[][], refX: number, xTicks: number[], minor: number[], xMin: number, xMax: number, dec: number, xTitle: string, title: string, cc: string, ccX: number, r: { L: number; T: number; W: number; H: number; pl: number; pr: number; pt: number; pb: number }) {
  const marker = { pointBackgroundColor: 'rgba(0,0,0,0)', pointBorderColor: '#444', pointBorderWidth: 1.7 };
  return {
    type: 'scatter' as const,
    plugins: [scatterPlugin],
    data: {
      datasets: [
        { label: 'star', data: [{ x: refX, y: refStar[0] }], pointStyle: 'star', pointRadius: 8.5, ...marker },
        { label: 'triangle', data: [{ x: refX, y: refTriangle[0] }], pointStyle: 'triangle', pointRotation: 180, pointRadius: 8, ...marker },
        { label: 'diamond', data: [{ x: refX, y: refDiamond[0] }], pointStyle: 'rectRot', pointRadius: 6.5, ...marker },
        { label: 'max', data: fmtPoints(orange), pointRadius: 4.4, pointBackgroundColor: '#ff4500', pointBorderWidth: 0 },
        { label: 'min', data: fmtPoints(blue), pointRadius: 4.4, pointBackgroundColor: '#1e90ff', pointBorderWidth: 0 },
        { label: 'members', data: fmtPoints(gray), pointRadius: 4.4, pointBackgroundColor: '#8b7b8b', pointBorderWidth: 0 },
        { label: 'x0', data: [{ x: 0, y: -114 }, { x: 0, y: 151 }], showLine: true, pointRadius: 0, borderColor: '#dddddd', borderWidth: 1, borderDash: [4, 4] },
        { label: 'y0', data: [{ x: xMin, y: 0 }, { x: xMax, y: 0 }], showLine: true, pointRadius: 0, borderColor: '#dddddd', borderWidth: 1, borderDash: [4, 4] },
      ],
    },
    options: {
      responsive: false,
      animation: false as const,
      events: [],
      layout: { autoPadding: false, padding: { left: 0, right: r.L + r.W - r.pr, top: r.pt - r.T, bottom: 0 } },
      plugins: { legend: { display: false }, tooltip: { enabled: false }, scatterLayers: { minor, title, cc, ccX } },
      scales: {
        x: {
          type: 'linear', min: xMin, max: xMax,
          afterBuildTicks: (s: any) => { s.ticks = xTicks.map((value) => ({ value })); },
          afterFit: (s: any) => { s.height = r.T + r.H - r.pb; },
          grid: { drawOnChartArea: false, tickLength: 7, tickColor: '#000', tickWidth: 1.4 },
          border: { display: false },
          ticks: { autoSkip: false, maxRotation: 0, padding: 10, color: '#000', font: { family: FONT, size: 17 }, callback: (v: number) => v.toFixed(dec) },
          title: { display: true, text: xTitle, color: '#000', font: { family: FONT, size: 17 }, padding: 0 },
        },
        y: {
          type: 'linear', min: -114, max: 151,
          afterBuildTicks: (s: any) => { s.ticks = pwcTicks.map((value) => ({ value })); },
          afterFit: (s: any) => { s.width = r.pl - r.L; },
          grid: { drawOnChartArea: false, tickLength: 6.5, tickColor: '#000', tickWidth: 1.4 },
          border: { display: false },
          ticks: { autoSkip: false, padding: 11, color: '#000', font: { family: FONT, size: 17 }, callback: (v: number) => String(v) },
          title: { display: true, text: 'PWC Trend [Pa (36yr)⁻¹]', color: '#000', font: { family: FONT, size: 17 }, padding: 0 },
        },
      },
    },
  };
}

function colorbarConfig(r: { L: number; T: number; W: number; H: number; pl: number; pr: number; pt: number; pb: number }) {
  const lo = colorbarLevels[0], hi = colorbarLevels[colorbarLevels.length - 1];
  const tip = 0.225;
  const segs: any[] = [];
  colorbarLevels.slice(0, -1).forEach((a, i) => {
    const b = colorbarLevels[i + 1];
    segs.push({ data: closed([[a, 0], [b, 0], [b, 1], [a, 1]]), backgroundColor: levelColors[i + 1], borderColor: '#fff', borderWidth: 1.2 });
  });
  segs.push({ data: closed([[lo - tip, .5], [lo, 1], [lo, 0]]), backgroundColor: levelColors[0], borderColor: levelColors[0], borderWidth: 0 });
  segs.push({ data: closed([[hi + tip, .5], [hi, 1], [hi, 0]]), backgroundColor: levelColors[9], borderColor: levelColors[9], borderWidth: 0 });
  return {
    type: 'scatter' as const,
    data: { datasets: segs.map((s) => ({ ...s, showLine: true, pointRadius: 0, fill: 'shape', tension: 0 })) },
    options: {
      responsive: false,
      animation: false as const,
      events: [],
      layout: { autoPadding: false, padding: { left: r.pl - r.L, right: r.L + r.W - r.pr, top: r.pt - r.T, bottom: 0 } },
      plugins: { legend: { display: false }, tooltip: { enabled: false } },
      scales: {
        x: {
          type: 'linear', min: lo - tip, max: hi + tip,
          afterBuildTicks: (s: any) => { s.ticks = colorbarLevels.map((value) => ({ value })); },
          afterFit: (s: any) => { s.height = r.T + r.H - r.pb; },
          grid: { display: false, drawTicks: false },
          border: { display: false },
          ticks: { autoSkip: false, maxRotation: 0, padding: 3, color: '#000', font: { family: FONT, size: 16.7 }, callback: (v: number) => colorbarLabels[colorbarLevels.indexOf(v)] },
          title: { display: true, text: 'SST Trend [K (36yr)⁻¹]', color: '#000', font: { family: FONT, size: 16.5 }, padding: { top: 0, bottom: 5 } },
        },
        y: { type: 'linear', min: 0, max: 1, display: false },
      },
    },
  };
}

const rects = [
  { L: 0, T: 0, W: 490, H: 200, pl: 67.5, pr: 481.7, pt: 31.7, pb: 155.7 },
  { L: 490, T: 0, W: 490, H: 200, pl: 557.3, pr: 971.5, pt: 31.7, pb: 155.7 },
  { L: 0, T: 205, W: 490, H: 200, pl: 67.5, pr: 481.7, pt: 238, pb: 362.7 },
  { L: 490, T: 205, W: 490, H: 200, pl: 557.3, pr: 971.5, pt: 238, pb: 362.7 },
  { L: 300, T: 405, W: 450, H: 70, pl: 312.7, pr: 738, pt: 411, pb: 424 },
  { L: 58, T: 490, W: 420, H: 321, pl: 133.3, pr: 456, pt: 520, pb: 749.3 },
  { L: 548, T: 490, W: 423, H: 321, pl: 623.3, pr: 945.7, pt: 520, pb: 749.3 },
];

const makers = [
  () => mapConfig(sstA, windA, 6, 'a) SST&UV850 trend', 'ERSSTv4&ERAIM', rects[0]),
  () => mapConfig(sstB, windB, 0, 'b) SST&UV850 trend', 'Ensemble Mean', rects[1]),
  () => mapConfig(sstC, windC, 5.6, 'c) SST&UV850 trend', 'Max10', rects[2]),
  () => mapConfig(sstD, windD, 99, 'd) SST&UV850 trend', 'Max10-Min10', rects[3]),
  () => colorbarConfig(rects[4]),
  () => scatterConfig(ipoGray, ipoOrange, ipoBlue, ipoRefX, ipoTicks, ipoMinor, -1.756, 1.439, 1, 'IPO Trend [K (36yr)⁻¹]', 'e) Correlation of PWC and IPO', '-0.69', 274, rects[5]),
  () => scatterConfig(amoGray, amoOrange, amoBlue, amoRefX, amoTicks, amoMinor, -.96, .85, 2, 'AMO Trend [K (36yr)⁻¹]', 'f) Correlation of PWC and AMO', '-0.17', 103, rects[6]),
];

export default function App() {
  const refs = useRef<(HTMLCanvasElement | null)[]>([]);
  useEffect(() => {
    const charts = makers.map((mk, i) => new Chart(refs.current[i]!, mk() as any));
    return () => charts.forEach((c) => c.destroy());
  }, []);
  return (
    <div style={{ position: 'fixed', left: 0, top: 0, width: 971, height: 811, overflow: 'hidden', background: '#fff' }}>
      {rects.map((r, i) => (
        <canvas
          key={i}
          ref={(el) => { refs.current[i] = el; }}
          width={r.W}
          height={r.H}
          style={{ position: 'absolute', left: r.L, top: r.T, width: r.W, height: r.H, display: 'block' }}
        />
      ))}
    </div>
  );
}
